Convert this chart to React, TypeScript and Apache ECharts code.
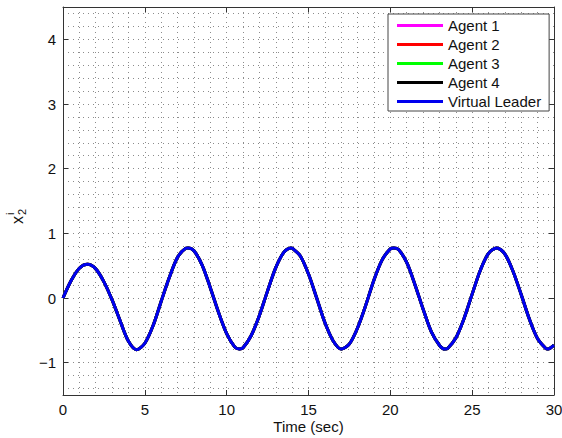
import React, { useEffect, useRef } from "react";
import * as echarts from "echarts";

// Time samples (s), with the read-off extrema included.
const time = [
  0, 0.5, 1, 1.5, 2, 2.5, 3, 3.5, 4, 4.5, 5, 5.5, 6, 6.5, 7, 7.5, 7.64, 8, 8.5, 9, 9.5,
  10, 10.5, 10.78, 11, 11.5, 12, 12.5, 13, 13.5, 13.92, 14, 14.5, 15, 15.5, 16, 16.5, 17, 17.5,
  18, 18.5, 19, 19.5, 20, 20.21, 20.5, 21, 21.5, 22, 22.5, 23, 23.33, 23.5, 24, 24.5, 25, 25.5,
  26, 26.5, 27, 27.5, 28, 28.5, 29, 29.5, 29.63, 30,
];

// Virtual leader x2 values.
const leader = [
  0, 0.27, 0.46, 0.52, 0.45, 0.25, -0.03, -0.36, -0.67, -0.8, -0.7, -0.43, -0.05,
  0.32, 0.63, 0.77, 0.775, 0.73, 0.51, 0.16, -0.22,
  -0.55, -0.76, -0.79, -0.77, -0.58, -0.27, 0.11, 0.47, 0.71, 0.775, 0.77, 0.65, 0.37, 0.0, -0.38, -0.66, -0.79, -0.71,
  -0.46, -0.11, 0.28, 0.59, 0.76, 0.775, 0.75, 0.55, 0.21, -0.17, -0.52, -0.73, -0.79, -0.78, -0.62, -0.32, 0.06, 0.43,
  0.69, 0.775, 0.68, 0.41, 0.05, -0.33, -0.63, -0.78, -0.79, -0.73,
];

// Agents converge onto the leader; they are drawn underneath it.
const agent1 = leader;
const agent2 = leader;
const agent3 = leader;
const agent4 = leader;

const seriesNames = ["Agent 1", "Agent 2", "Agent 3", "Agent 4", "Virtual Leader"];
const seriesColors = ["#ff00ff", "#ff0000", "#00ff00", "#000000", "#0000ee"];
const seriesValues = [agent1, agent2, agent3, agent4, leader];

const xMin = 0;
const xMax = 30;
const xInterval = 5;
const yMin = -1.5;
const yMax = 4.5;

const FONT = "'Liberation Sans', Arial, Helvetica, sans-serif";
const AXIS_COLOR = "#333";
const GRID_STYLE = { color: "#8c8c8c", width: 1, type: [1, 4] as number[] };

export default function App() {
  const ref = useRef<HTMLDivElement>(null);

  useEffect(() => {
    if (!ref.current) return;
    const chart = echarts.init(ref.current, undefined, { renderer: "svg" });

    const fmtY = (v: number) => (v < 0 ? "\u2212" + Math.abs(v) : String(v));

    const option: any = {
      animation: false,
      backgroundColor: "#fff",
      grid: { left: 63, right: 8, top: 7, bottom: 43, containLabel: false, outerBoundsMode: "none" },
      legend: {
        data: seriesNames,
        orient: "vertical",
        left: 388,
        top: 14,
        backgroundColor: "#fff",
        borderColor: "#444",
        borderWidth: 1,
        borderRadius: 0,
        padding: [2, 8, 0, 9],
        itemGap: 0,
        itemWidth: 46,
        itemHeight: 3,
        icon: "rect",
        textStyle: { fontFamily: FONT, fontSize: 15, color: "#111", lineHeight: 19 },
      },
      xAxis: [
        {
          type: "value",
          min: xMin,
          max: xMax,
          interval: xInterval,
          position: "bottom",
          name: "Time (sec)",
          nameLocation: "middle",
          nameGap: 24,
          nameMoveOverlap: false,
          nameTextStyle: { fontFamily: FONT, fontSize: 15, color: "#111" },
          axisLine: { show: true, onZero: false, lineStyle: { color: AXIS_COLOR, width: 1 } },
          axisTick: { show: true, inside: true, length: 5, lineStyle: { color: AXIS_COLOR } },
          axisLabel: { fontFamily: FONT, fontSize: 15, color: "#111", margin: 6, lineHeight: 16 },
          splitLine: { show: true, lineStyle: GRID_STYLE },
          minorTick: { show: false, splitNumber: 5 },
          minorSplitLine: { show: true, lineStyle: GRID_STYLE },
        },
        {
          type: "value",
          min: xMin,
          max: xMax,
          interval: xInterval,
          position: "top",
          axisLine: { show: true, onZero: false, lineStyle: { color: AXIS_COLOR, width: 1 } },
          axisTick: { show: true, inside: true, length: 5, lineStyle: { color: AXIS_COLOR } },
          axisLabel: { show: false },
          splitLine: { show: false },
        },
      ],
      yAxis: [
        {
          type: "value",
          min: yMin,
          max: yMax,
          splitNumber: 6,
          position: "left",
          axisLine: { show: true, onZero: false, lineStyle: { color: AXIS_COLOR, width: 1 } },
          axisTick: { show: true, inside: true, length: 5, lineStyle: { color: AXIS_COLOR } },
          axisLabel: {
            fontFamily: FONT,
            fontSize: 15,
            color: "#111",
            margin: 7,
            showMinLabel: false,
            showMaxLabel: false,
            formatter: (v: number) => (Number.isInteger(v) ? fmtY(v) : ""),
          },
          splitLine: { show: false },
        },
        {
          type: "value",
          min: yMin,
          max: yMax,
          splitNumber: 30,
          position: "left",
          axisLine: { show: false },
          axisTick: { show: false },
          axisLabel: { show: false },
          splitLine: { show: true, lineStyle: GRID_STYLE },
        },
        {
          type: "value",
          min: yMin,
          max: yMax,
          splitNumber: 6,
          position: "right",
          axisLine: { show: true, onZero: false, lineStyle: { color: AXIS_COLOR, width: 1 } },
          axisTick: { show: true, inside: true, length: 5, lineStyle: { color: AXIS_COLOR } },
          axisLabel: { show: false },
          splitLine: { show: false },
        },
      ],
      graphic: [
        {
          type: "group",
          x: 17,
          y: 224,
          rotation: Math.PI / 2,
          silent: true,
          children: [
            {
              type: "text",
              x: 0,
              y: 0,
              style: { text: "x", fontFamily: FONT, fontSize: 16, fill: "#111", align: "left", verticalAlign: "middle" },
            },
            {
              type: "text",
              x: 9,
              y: 5,
              style: { text: "2", fontFamily: FONT, fontSize: 11, fill: "#111", align: "left", verticalAlign: "middle" },
            },
            {
              type: "text",
              x: 9,
              y: -7,
              style: { text: "i", fontFamily: FONT, fontSize: 11, fill: "#111", align: "left", verticalAlign: "middle" },
            },
          ],
        },
      ],
      series: seriesNames.map((name, k) => ({
        name,
        type: "line",
        xAxisIndex: 0,
        yAxisIndex: 0,
        showSymbol: false,
        smooth: 0.3,
        color: seriesColors[k],
        lineStyle: { width: 3, color: seriesColors[k] },
        data: time.map((t, i) => [t, seriesValues[k][i]]),
        z: 2 + k,
      })),
    };

    chart.setOption(option);
    return () => chart.dispose();
  }, []);

  return (
    <div
      ref={ref}
      style={{ position: "fixed", left: 0, top: 0, width: 562, height: 438 }}
    />
  );
}
